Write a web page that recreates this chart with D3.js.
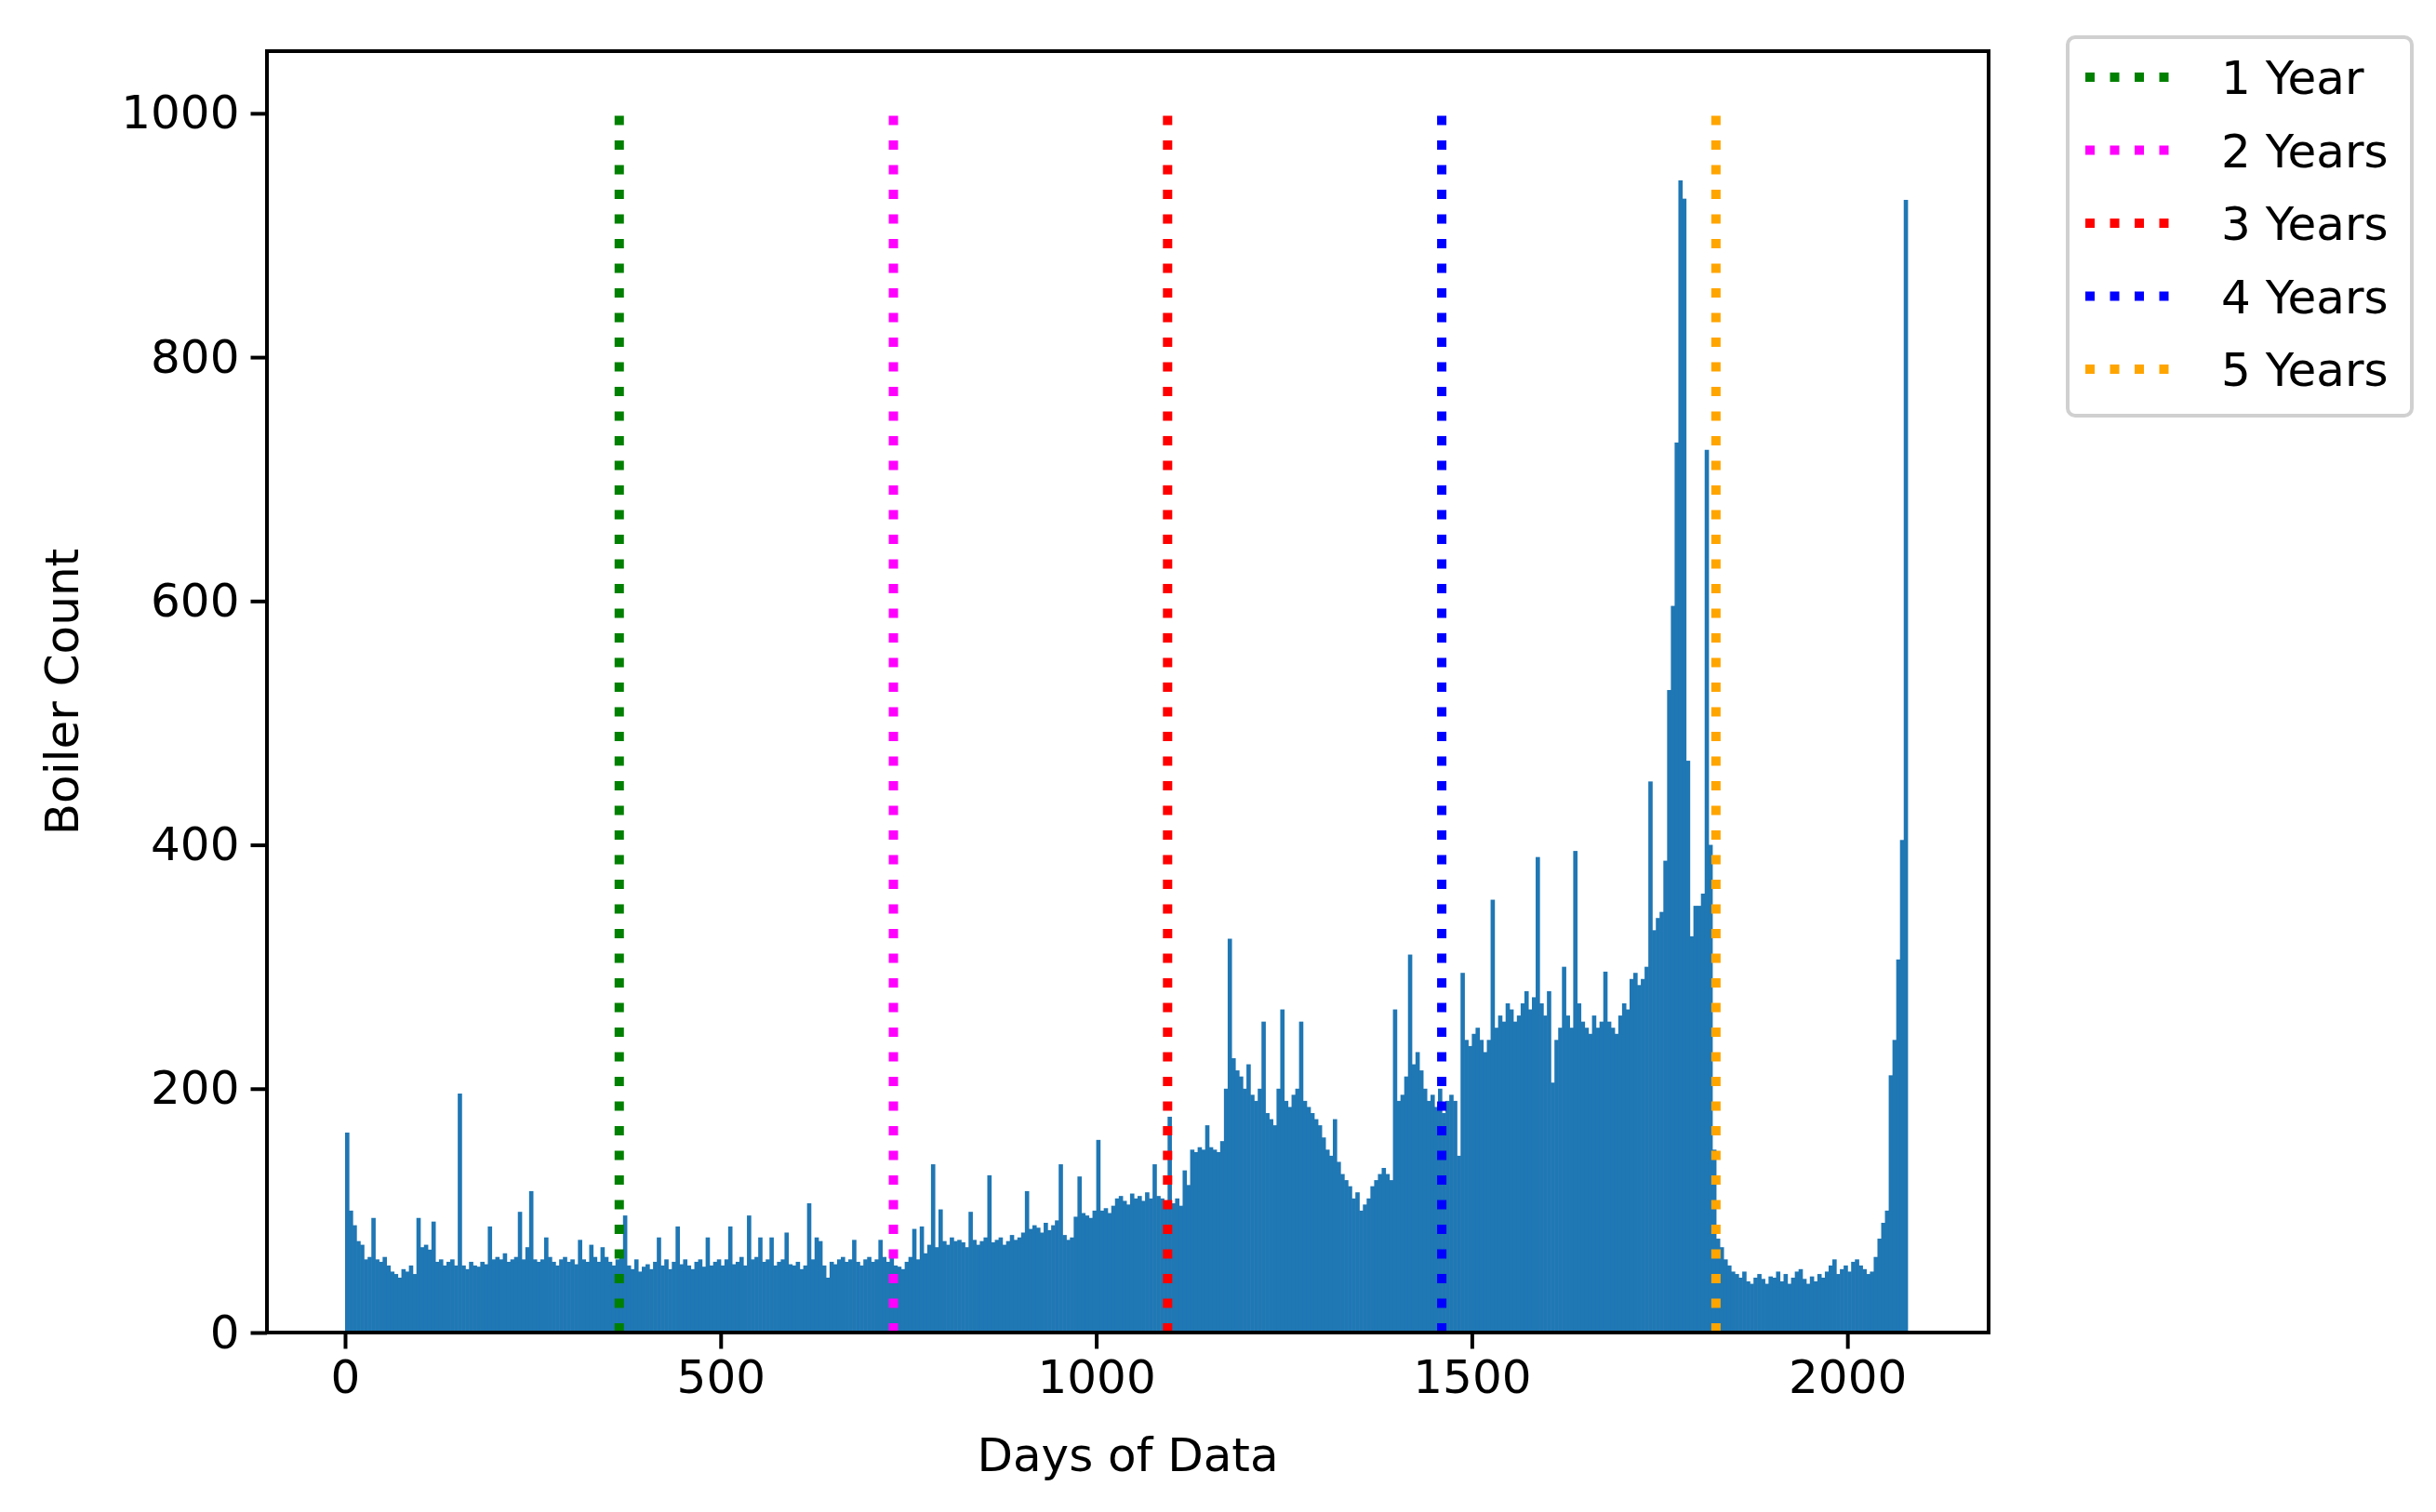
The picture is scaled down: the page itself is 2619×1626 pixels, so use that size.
<!DOCTYPE html>
<html><head><meta charset="utf-8">
<script src="https://cdn.jsdelivr.net/npm/d3@7"></script>
<style>body{margin:0;background:#fff}svg{display:block}text{font-family:"DejaVu Sans",sans-serif;fill:#000}</style>
</head><body><svg id="c" width="2619" height="1626"></svg>
<script>
// 5-day bins starting at day 0
const binWidth = 5;
const counts = [
 164,100,88,75,72,60,62,94,60,58,62,55,50,48,45,52,50,55,48,94,
 70,72,68,91,58,60,55,58,60,55,196,55,52,58,55,54,58,56,87,60,
 62,60,65,58,60,62,99,60,70,116,60,58,60,78,62,58,55,60,62,58,
 60,56,76,60,58,72,62,58,70,62,58,55,60,62,96,55,52,60,50,54,
 56,52,58,78,55,60,52,58,87,56,60,55,52,58,60,54,78,55,58,60,
 55,60,87,56,58,62,55,96,60,62,78,58,60,78,55,58,60,82,56,55,
 58,52,55,106,60,78,75,55,45,58,56,60,62,58,60,76,58,55,60,62,
 58,60,76,62,58,66,55,54,52,58,62,85,60,87,65,72,138,70,101,75,
 72,78,75,76,74,70,99,76,72,75,78,129,74,76,78,72,75,80,76,78,
 82,116,85,88,86,82,90,84,88,92,138,80,76,78,95,128,98,96,94,100,
 158,100,102,98,104,110,112,108,105,114,110,112,108,115,110,138,112,110,108,177,
 106,110,104,133,121,150,148,152,150,170,152,150,148,157,200,323,225,215,210,200,
 220,195,190,200,255,180,175,170,200,265,190,185,195,200,255,190,185,180,175,170,
 160,150,145,175,140,130,125,120,110,115,100,105,110,120,125,130,135,130,125,265,
 190,195,210,310,220,230,215,200,190,195,185,200,180,190,195,190,145,295,240,235,
 245,250,240,230,240,355,250,260,255,270,265,255,260,270,280,265,275,390,270,260,
 280,205,240,250,300,260,250,395,270,255,250,245,260,250,255,296,255,250,245,260,
 270,265,290,295,285,290,300,452,330,340,345,387,527,596,730,945,930,469,325,350,
 350,360,724,400,150,77,70,60,55,50,48,45,50,42,40,45,48,44,40,46,
 45,50,42,48,40,45,50,52,44,40,46,42,48,45,50,55,60,48,52,55,
 50,58,60,55,52,48,50,62,77,90,100,211,240,306,404,929
];
const markerDays = [365, 730, 1095, 1460, 1825];
const markerLabels = ["1 Year", "2 Years", "3 Years", "4 Years", "5 Years"];
const markerColors = ["green", "#ff00ff", "red", "blue", "orange"];
const markerTop = 1000;
const xTicks = [0, 500, 1000, 1500, 2000];
const yTicks = [0, 200, 400, 600, 800, 1000];

const L = 287, R = 2138, T = 55, B = 1433;
const svg = d3.select("#c");
const x = d3.scaleLinear().domain([-104, 2188]).range([L, R]);
const y = d3.scaleLinear().domain([0, 1051]).range([B, T]);

svg.append("g").selectAll("rect").data(counts).join("rect")
  .attr("x", (d, i) => x(i * binWidth))
  .attr("width", (d, i) => x((i + 1) * binWidth) - x(i * binWidth) + 0.6)
  .attr("y", d => y(d)).attr("height", d => B - y(d))
  .attr("fill", "#1f77b4");

svg.append("g").selectAll("line").data(markerDays).join("line")
  .attr("x1", d => x(d)).attr("x2", d => x(d))
  .attr("y1", y(0)).attr("y2", y(markerTop))
  .attr("stroke", (d, i) => markerColors[i]).attr("stroke-width", 10)
  .attr("stroke-dasharray", "10,16.5");

const fs = 50;
const xa = svg.append("g").attr("transform", `translate(0,${B})`)
  .call(d3.axisBottom(x).tickValues(xTicks).tickSize(17.5).tickPadding(12).tickFormat(d3.format("d")));
const ya = svg.append("g").attr("transform", `translate(${L},0)`)
  .call(d3.axisLeft(y).tickValues(yTicks).tickSize(17.5).tickPadding(12).tickFormat(d3.format("d")));
[xa, ya].forEach(a => {
  a.select(".domain").remove();
  a.selectAll(".tick line").attr("stroke", "#000").attr("stroke-width", 4);
  a.selectAll(".tick text").attr("font-size", fs).attr("font-family", "DejaVu Sans");
});
svg.append("rect").attr("x", L).attr("y", T).attr("width", R - L).attr("height", B - T)
  .attr("fill", "none").attr("stroke", "#000").attr("stroke-width", 4);

svg.append("text").attr("x", (L + R) / 2).attr("y", 1582).attr("text-anchor", "middle")
  .attr("font-size", fs).text("Days of Data");
svg.append("text").attr("transform", `translate(84,${(T + B) / 2}) rotate(-90)`)
  .attr("text-anchor", "middle").attr("font-size", fs).text("Boiler Count");

const lg = svg.append("g");
lg.append("rect").attr("x", 2223).attr("y", 40).attr("width", 370).attr("height", 407)
  .attr("rx", 8).attr("fill", "#fff").attr("stroke", "#d0d0d0").attr("stroke-width", 4);
markerLabels.forEach((lab, i) => {
  const yy = 83 + i * 78.5;
  lg.append("line").attr("x1", 2242).attr("x2", 2340).attr("y1", yy).attr("y2", yy)
    .attr("stroke", markerColors[i]).attr("stroke-width", 10).attr("stroke-dasharray", "10,16.5");
  lg.append("text").attr("x", 2388).attr("y", yy).attr("dy", "0.36em").attr("font-size", fs).text(lab);
});
</script></body></html>
